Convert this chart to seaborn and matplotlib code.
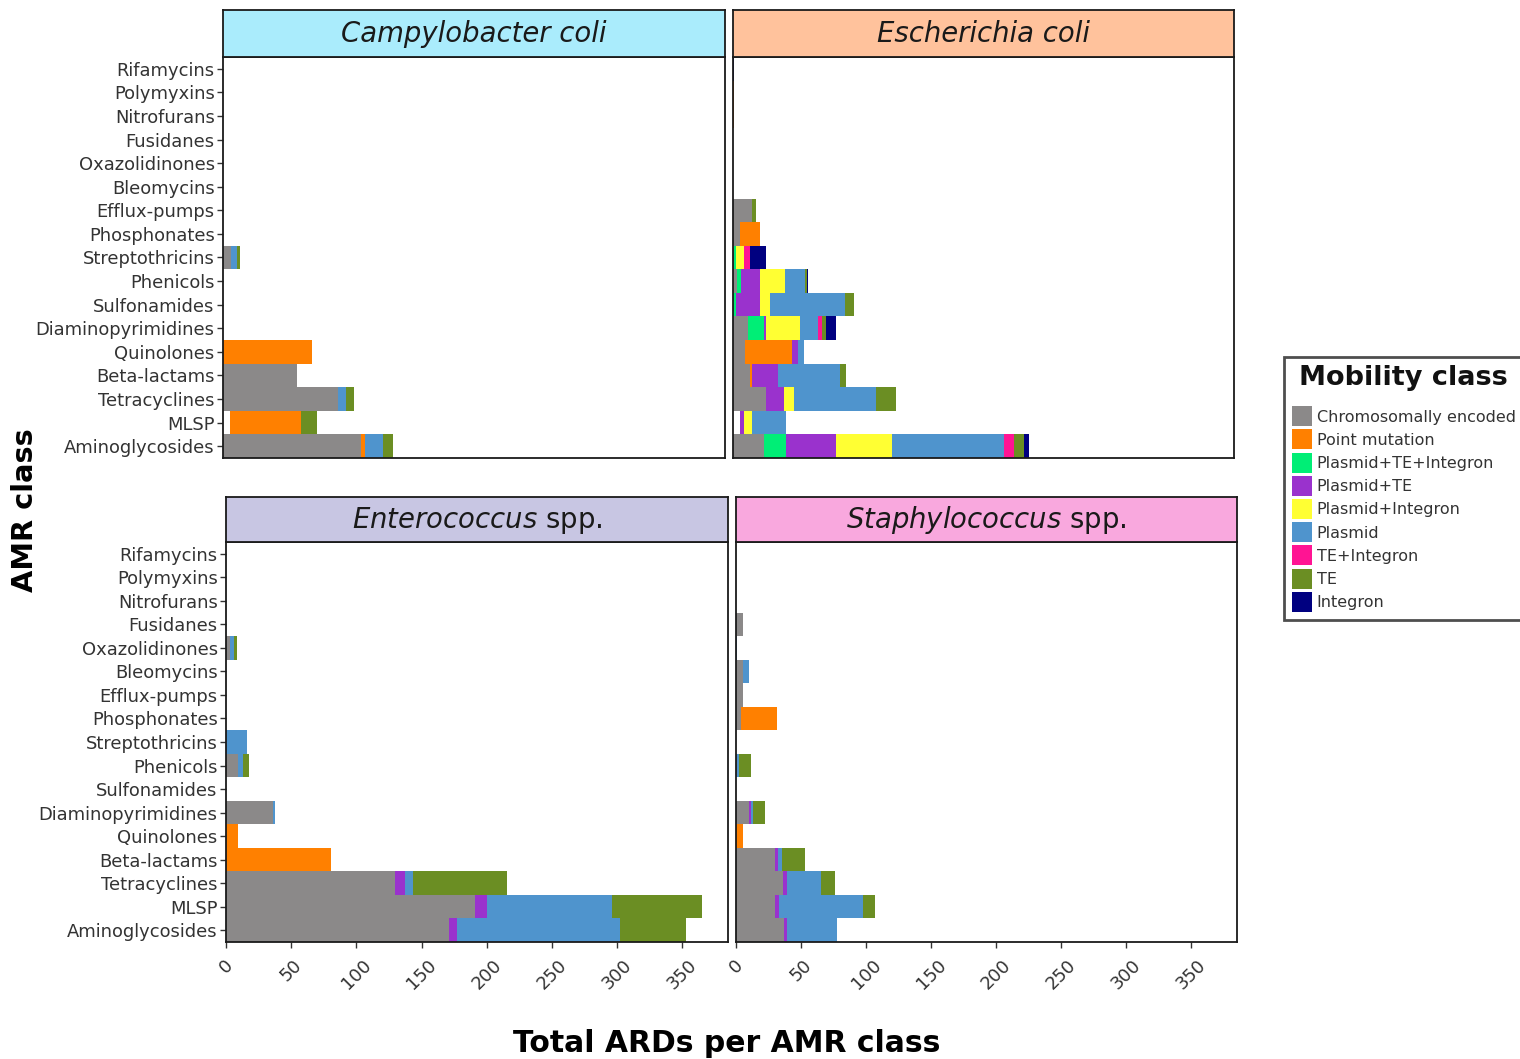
import numpy as np
import pandas as pd
import seaborn as sns
import matplotlib
matplotlib.use("Agg")
import matplotlib.pyplot as plt
from matplotlib.patches import Patch

sns.set_theme(style="white")
plt.rcParams['font.family'] = ['DejaVu Sans']

# ---------------- data ----------------
amr_classes = ["Rifamycins", "Polymyxins", "Nitrofurans", "Fusidanes", "Oxazolidinones",
               "Bleomycins", "Efflux-pumps", "Phosphonates", "Streptothricins", "Phenicols",
               "Sulfonamides", "Diaminopyrimidines", "Quinolones", "Beta-lactams",
               "Tetracyclines", "MLSP", "Aminoglycosides"]

mobility_classes = ["Unknown", "Chromosomally encoded", "Point mutation", "Plasmid+TE+Integron",
                    "Plasmid+TE", "Plasmid+Integron", "Plasmid", "TE+Integron", "TE", "Integron"]

mobility_colors = ["#FFFFFF", "#8B8989", "#FF8000", "#00EE76", "#9A32CD", "#FFFF33",
                   "#4F94CD", "#FF1493", "#6B8E23", "#000080"]

species_titles = ["Campylobacter coli", "Escherichia coli", "Enterococcus spp.", "Staphylococcus spp."]
strip_colors = ["#AAECFC", "#FFC29C", "#C8C6E3", "#F9A8DE"]

campylobacter = [
    ("Streptothricins", "Chromosomally encoded", 6.4), ("Streptothricins", "Plasmid", 4.6),
    ("Streptothricins", "TE", 1.8),
    ("Quinolones", "Point mutation", 68),
    ("Beta-lactams", "Chromosomally encoded", 57),
    ("Tetracyclines", "Chromosomally encoded", 88), ("Tetracyclines", "Plasmid", 6.2),
    ("Tetracyclines", "TE", 6.2),
    ("MLSP", "Unknown", 5.1), ("MLSP", "Point mutation", 55), ("MLSP", "TE", 12.3),
    ("Aminoglycosides", "Chromosomally encoded", 106), ("Aminoglycosides", "Point mutation", 3),
    ("Aminoglycosides", "Plasmid", 14), ("Aminoglycosides", "TE", 7.5),
]

escherichia = [
    ("Rifamycins", "Integron", 0.8),
    ("Polymyxins", "Point mutation", 0.8),
    ("Nitrofurans", "Point mutation", 0.8),
    ("Efflux-pumps", "Chromosomally encoded", 14.8), ("Efflux-pumps", "TE", 2.5),
    ("Phosphonates", "Chromosomally encoded", 5.6), ("Phosphonates", "Point mutation", 15.4),
    ("Streptothricins", "Chromosomally encoded", 1), ("Streptothricins", "Plasmid+TE+Integron", 1.3),
    ("Streptothricins", "Plasmid+Integron", 5.9), ("Streptothricins", "TE+Integron", 4.9),
    ("Streptothricins", "Integron", 12.3),
    ("Phenicols", "Chromosomally encoded", 3), ("Phenicols", "Plasmid+TE+Integron", 3),
    ("Phenicols", "Plasmid+TE", 15.1), ("Phenicols", "Plasmid+Integron", 18.5),
    ("Phenicols", "Plasmid", 15.4), ("Phenicols", "TE", 1.5), ("Phenicols", "Integron", 1.5),
    ("Sulfonamides", "Plasmid+TE+Integron", 2), ("Sulfonamides", "Plasmid+TE", 19),
    ("Sulfonamides", "Plasmid+Integron", 7.7), ("Sulfonamides", "Plasmid", 57),
    ("Sulfonamides", "TE", 7.2),
    ("Diaminopyrimidines", "Chromosomally encoded", 11.5), ("Diaminopyrimidines", "Plasmid+TE+Integron", 12.3),
    ("Diaminopyrimidines", "Plasmid+TE", 1.8), ("Diaminopyrimidines", "Plasmid+Integron", 26),
    ("Diaminopyrimidines", "Plasmid", 13.6), ("Diaminopyrimidines", "TE+Integron", 3.3),
    ("Diaminopyrimidines", "TE", 3), ("Diaminopyrimidines", "Integron", 7.7),
    ("Quinolones", "Chromosomally encoded", 9), ("Quinolones", "Point mutation", 36.4),
    ("Quinolones", "Plasmid+TE", 4.6), ("Quinolones", "Plasmid", 4.4),
    ("Beta-lactams", "Chromosomally encoded", 13.3), ("Beta-lactams", "Point mutation", 1.5),
    ("Beta-lactams", "Plasmid+TE", 20), ("Beta-lactams", "Plasmid", 47.7), ("Beta-lactams", "TE", 4.6),
    ("Tetracyclines", "Chromosomally encoded", 25.6), ("Tetracyclines", "Plasmid+TE", 13.6),
    ("Tetracyclines", "Plasmid+Integron", 7.7), ("Tetracyclines", "Plasmid", 63.3),
    ("Tetracyclines", "TE", 14.8),
    ("MLSP", "Unknown", 5.6), ("MLSP", "Plasmid+TE", 2.5), ("MLSP", "Plasmid+Integron", 6.4),
    ("MLSP", "Plasmid", 25.9),
    ("Aminoglycosides", "Chromosomally encoded", 23.8), ("Aminoglycosides", "Plasmid+TE+Integron", 17.2),
    ("Aminoglycosides", "Plasmid+TE", 37.9), ("Aminoglycosides", "Plasmid+Integron", 43.3),
    ("Aminoglycosides", "Plasmid", 85.8), ("Aminoglycosides", "TE+Integron", 7.7),
    ("Aminoglycosides", "TE", 7.7), ("Aminoglycosides", "Integron", 4.4),
]

enterococcus = [
    ("Oxazolidinones", "Chromosomally encoded", 3.3), ("Oxazolidinones", "Plasmid", 3.1),
    ("Oxazolidinones", "TE", 1.8),
    ("Streptothricins", "Plasmid", 15.9),
    ("Phenicols", "Chromosomally encoded", 9.5), ("Phenicols", "Plasmid", 3.3), ("Phenicols", "TE", 4.6),
    ("Diaminopyrimidines", "Chromosomally encoded", 35.9), ("Diaminopyrimidines", "Plasmid", 1.8),
    ("Quinolones", "Point mutation", 9.5),
    ("Beta-lactams", "Point mutation", 80.2),
    ("Tetracyclines", "Chromosomally encoded", 129.5), ("Tetracyclines", "Plasmid+TE", 7.7),
    ("Tetracyclines", "Plasmid", 6.4), ("Tetracyclines", "TE", 72.1),
    ("MLSP", "Chromosomally encoded", 191), ("MLSP", "Plasmid+TE", 9.5),
    ("MLSP", "Plasmid", 95.7), ("MLSP", "TE", 68.7),
    ("Aminoglycosides", "Chromosomally encoded", 171.3), ("Aminoglycosides", "Plasmid+TE", 6.2),
    ("Aminoglycosides", "Plasmid", 124.6), ("Aminoglycosides", "TE", 50.5),
]

staphylococcus = [
    ("Fusidanes", "Chromosomally encoded", 5.1),
    ("Oxazolidinones", "Plasmid", 0.8),
    ("Bleomycins", "Chromosomally encoded", 5.1), ("Bleomycins", "Plasmid", 4.6),
    ("Efflux-pumps", "Chromosomally encoded", 5.1),
    ("Phosphonates", "Chromosomally encoded", 3.8), ("Phosphonates", "Point mutation", 27.7),
    ("Phenicols", "Chromosomally encoded", 1), ("Phenicols", "Plasmid", 1.5), ("Phenicols", "TE", 9),
    ("Diaminopyrimidines", "Chromosomally encoded", 9.8), ("Diaminopyrimidines", "Plasmid+TE", 1.8),
    ("Diaminopyrimidines", "Plasmid", 1.8), ("Diaminopyrimidines", "TE", 9),
    ("Quinolones", "Point mutation", 5.1),
    ("Beta-lactams", "Chromosomally encoded", 30.2), ("Beta-lactams", "Plasmid+TE", 1.8),
    ("Beta-lactams", "Plasmid", 3.1), ("Beta-lactams", "TE", 17.9),
    ("Tetracyclines", "Chromosomally encoded", 36.4), ("Tetracyclines", "Plasmid+TE", 2.8),
    ("Tetracyclines", "Plasmid", 26.2), ("Tetracyclines", "TE", 10.8),
    ("MLSP", "Chromosomally encoded", 30.2), ("MLSP", "Plasmid+TE", 3.1),
    ("MLSP", "Plasmid", 64.1), ("MLSP", "TE", 9.5),
    ("Aminoglycosides", "Chromosomally encoded", 37.2), ("Aminoglycosides", "Plasmid+TE", 1.8),
    ("Aminoglycosides", "Plasmid", 38.7),
]

x_ticks = [0, 50, 100, 150, 200, 250, 300, 350]
x_max = 385

# ---------------- layout ----------------
W, H = 1520, 1059
fig = plt.figure(figsize=(W / 100, H / 100), dpi=100)

def px_axes(x0, y0, x1, y1):
    return fig.add_axes([x0 / W, 1 - y1 / H, (x1 - x0) / W, (y1 - y0) / H])

# (panel box x0, y0, x1, y1), strip top
panels = [
    (223, 57, 725, 458, 10),
    (733, 57, 1234, 458, 10),
    (226, 542, 728, 942, 497),
    (736, 542, 1237, 942, 497),
]
datasets = [campylobacter, escherichia, enterococcus, staphylococcus]

tick_col = "#333333"

for idx, (data, (x0, y0, x1, y1, st)) in enumerate(zip(datasets, panels)):
    ax = px_axes(x0, y0, x1, y1)
    df = pd.DataFrame(data, columns=["AMR", "Mobility", "Count"])
    wide = (df.pivot_table(index="AMR", columns="Mobility", values="Count", aggfunc="sum")
              .reindex(index=amr_classes, columns=mobility_classes).fillna(0))
    cum = wide.cumsum(axis=1).reset_index()
    # draw cumulative layers from the outermost to the innermost
    for mob, col in reversed(list(zip(mobility_classes, mobility_colors))):
        sns.barplot(data=cum, x=mob, y="AMR", order=amr_classes, orient="h",
                    color=col, saturation=1, width=1.0, linewidth=0,
                    errorbar=None, ax=ax)
    ax.set_xlim(0, x_max)
    ax.set_ylim(16.5, -0.5)
    ax.set_xlabel("")
    ax.set_ylabel("")
    ax.set_xticks(x_ticks)
    left = idx in (0, 2)
    bottom = idx in (2, 3)
    if left:
        ax.tick_params(axis="y", length=4, width=1, color=tick_col, labelsize=12.9,
                       labelcolor=tick_col, pad=2, left=True)
    else:
        ax.tick_params(axis="y", length=0, labelleft=False, left=False)
    if bottom:
        ax.set_xticklabels([str(t) for t in x_ticks], rotation=45, ha="center", va="top")
        ax.tick_params(axis="x", length=4, width=1, color=tick_col, labelsize=12.9,
                       labelcolor=tick_col, pad=6, bottom=True)
    else:
        ax.tick_params(axis="x", length=0, labelbottom=False, bottom=False)
    for s in ax.spines.values():
        s.set_visible(True)
        s.set_color("#1a1a1a")
        s.set_linewidth(1.3)
    ax.set_facecolor("white")

    # strip
    sax = px_axes(x0, st, x1, y0)
    sax.set_facecolor(strip_colors[idx])
    sax.set_xticks([])
    sax.set_yticks([])
    for s in sax.spines.values():
        s.set_color("#1a1a1a")
        s.set_linewidth(1.3)
    title = species_titles[idx]
    if title.endswith("spp."):
        genus = title.split()[0]
        sax.text(0.5, 0.48, r"$\mathit{" + genus + r"}$ spp.", ha="center", va="center",
                 fontsize=19.8, color="#1a1a1a", transform=sax.transAxes)
    else:
        sax.text(0.5, 0.48, title, ha="center", va="center", fontsize=19.8,
                 fontstyle="italic", color="#1a1a1a", transform=sax.transAxes)

# axis titles
fig.text(25 / W, 1 - 510 / H, "AMR class", rotation=90, ha="center", va="center",
         fontsize=20.8, fontweight="bold", color="black")
fig.text(727 / W, 1 - 1043 / H, "Total ARDs per AMR class", ha="center", va="center",
         fontsize=21.5, fontweight="bold", color="black")

# legend
handles = [Patch(facecolor=c, edgecolor="none") for c in mobility_colors[1:]]
leg = fig.legend(handles, mobility_classes[1:], title="Mobility class",
                 loc="upper left", bbox_to_anchor=(1284 / W, 1 - 357 / H),
                 frameon=True, fancybox=False, fontsize=11.5,
                 handlelength=1.25, handleheight=1.55, labelspacing=0.2,
                 handletextpad=0.3, borderpad=0.5, borderaxespad=0)
leg.get_title().set_fontsize(19.5)
leg.get_title().set_fontweight("bold")
leg.get_title().set_color("#111111")
leg.get_frame().set_linewidth(2)
leg.get_frame().set_edgecolor("#222222")
leg._legend_box.sep = 11
for t in leg.get_texts():
    t.set_color("#333333")

fig.savefig("out.png", dpi=100)
